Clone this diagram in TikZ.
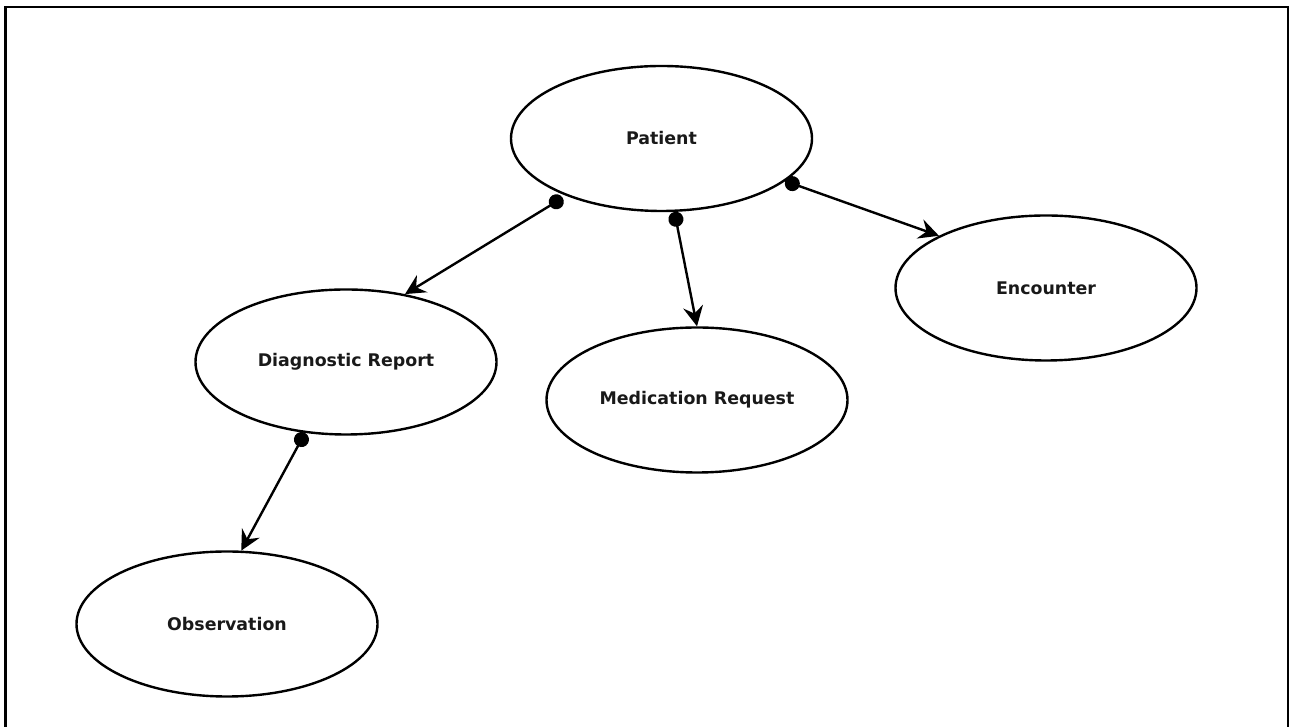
\documentclass[tikz,border=0pt]{standalone}
\usepackage{fontspec}
\setmainfont{DejaVu Sans}
\usetikzlibrary{arrows.meta,shapes.geometric}
\begin{document}
\begin{tikzpicture}[x=1pt,y=1pt,
  entity/.style={draw, ellipse, line width=2.4pt, minimum width=301pt, minimum height=145pt,
    inner sep=0pt, font=\fontsize{17.4pt}{20pt}\selectfont\bfseries, text=black!90},
  conn/.style={line width=2.4pt, {Circle[length=15pt]}-{Stealth[length=20pt,width=20pt,inset=7pt]}}
]
\clip (0,0) rectangle (1289,727);
\draw[line width=2.8pt] (5.5,-20) -- (5.5,720) -- (1288.5,720) -- (1288.5,-20);

\node[entity] (p) at (661.5,588.5) {Patient};
\node[entity] (e) at (1046,439) {Encounter};
\node[entity] (d) at (346,365) {Diagnostic Report};
\node[entity] (m) at (697,327) {Medication Request};
\node[entity] (o) at (227,103) {Observation};

\draw[conn, shorten <=4pt] (p.211.8) -- (d.49.9);
\draw[conn] (p.280.8) -- (m.90);
\draw[conn] (p.341) -- (e.154.8);
\draw[conn] (d.240.4) -- (o.79.5);
\end{tikzpicture}
\end{document}
